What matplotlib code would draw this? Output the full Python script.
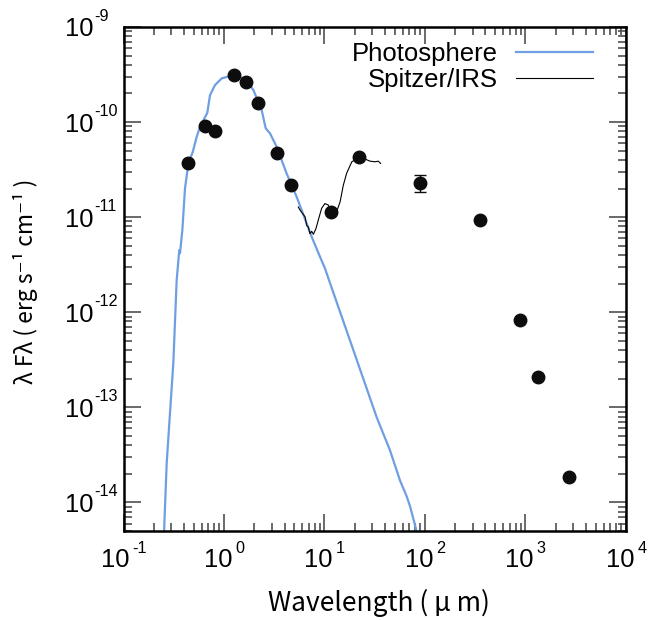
import numpy as np
import matplotlib
matplotlib.use('Agg')
import matplotlib.pyplot as plt
from matplotlib.ticker import LogLocator, NullFormatter

plt.rcParams['font.family'] = ['Liberation Sans', 'DejaVu Sans']

# photometry (wavelength in micron, lambda F_lambda in erg s^-1 cm^-2)
phot_wl = [0.438, 0.647, 0.808, 1.25, 1.65, 2.18, 3.35, 4.6, 11.5, 22.0,
           90.0, 350.0, 887.0, 1330.0, 2710.0]
phot_flux = [3.73e-11, 9.1e-11, 8.0e-11, 3.13e-10, 2.62e-10, 1.57e-10, 4.75e-11,
             2.19e-11, 1.12e-11, 4.28e-11, 2.28e-11, 9.3e-12, 8.2e-13, 2.06e-13, 1.83e-14]
err_lo = [0, 0, 0, 0, 0, 0, 0, 0, 0, 0, 0.46e-11, 0, 0, 0, 0]
err_hi = [0, 0, 0, 0, 0, 0, 0, 0, 0, 0, 0.49e-11, 0, 0, 0, 0]

# stellar photosphere model
model_wl = [0.252, 0.255, 0.269, 0.290, 0.313, 0.338, 0.359, 0.365, 0.379, 0.385,
            0.409, 0.442, 0.489, 0.535, 0.577, 0.682, 0.726, 0.814, 0.948, 1.15,
            1.34, 1.68, 1.96, 2.37, 2.60, 2.87, 3.34, 4.2, 5.28, 7.46, 9.02,
            10.1, 11.4, 19.4, 33.0, 44.9, 56.4, 65.5, 71.0, 81.3, 85.0]
model_flux = [4.0e-15, 6.0e-15, 2.58e-14, 8.65e-14, 2.9e-13, 2.17e-12, 4.5e-12, 4.18e-12,
              6.2e-12, 7.3e-12, 2.0e-11, 3.67e-11, 4.86e-11, 7.0e-11, 8.9e-11, 1.25e-10,
              1.92e-10, 2.45e-10, 2.88e-10, 3.05e-10, 3.05e-10, 2.77e-10, 2.17e-10,
              1.34e-10, 8.6e-11, 7.6e-11, 5.5e-11, 2.88e-11, 1.64e-11, 6.2e-12, 3.83e-12,
              2.9e-12, 2.0e-12, 3.98e-13, 7.9e-14, 3.52e-14, 1.7e-14, 1.17e-14, 9.1e-15,
              5.3e-15, 4.0e-15]

# Spitzer IRS spectrum
irs_wl = [5.48, 5.70, 6.06, 6.40, 6.65, 6.90, 7.17, 7.46, 7.75, 8.23, 8.67, 9.37,
          10.1, 10.9, 11.8, 13.2, 14.3, 15.4, 16.6, 18.7, 21.7, 25.3, 28.4, 31.8,
          34.3, 36.2]
irs_flux = [1.28e-11, 1.19e-11, 1.09e-11, 1.01e-11, 8.2e-12, 7.9e-12, 6.7e-12, 7.1e-12,
            6.6e-12, 7.6e-12, 9.3e-12, 1.24e-11, 1.39e-11, 1.34e-11, 1.14e-11, 1.14e-11,
            1.45e-11, 2.17e-11, 2.89e-11, 3.82e-11, 4.21e-11, 4.08e-11, 3.88e-11,
            3.82e-11, 3.88e-11, 3.67e-11]

x_exps = [-1, 0, 1, 2, 3, 4]
y_exps = [-14, -13, -12, -11, -10, -9]

fig = plt.figure(figsize=(6.48, 6.2), dpi=100)
ax = fig.add_axes([0.1906, 0.1435, 0.7754, 0.813])

ax.plot(model_wl, model_flux, color='#6f9fe2', lw=1.6, label='Photosphere')
ax.plot(irs_wl, irs_flux, color='black', lw=0.8, label='Spitzer/IRS')
ax.errorbar(phot_wl, phot_flux, yerr=[err_lo, err_hi], fmt='o', color='#0d0d0d',
            ms=9, elinewidth=1, capsize=4.2, capthick=1, zorder=5)

ax.set_xscale('log')
ax.set_yscale('log')
ax.set_xlim(0.1, 1e4)
ax.set_ylim(5e-15, 1e-9)

ax.set_xticks([10.0 ** e for e in x_exps])
ax.set_yticks([10.0 ** e for e in y_exps])
for axis in [ax.xaxis, ax.yaxis]:
    axis.set_minor_locator(LogLocator(base=10, subs=np.arange(2, 10), numticks=20))
    axis.set_major_formatter(NullFormatter())
    axis.set_minor_formatter(NullFormatter())

ax.tick_params(which='both', direction='in', top=True, right=True, color='#505050',
               width=1.2)
ax.tick_params(which='major', length=12)
ax.tick_params(which='minor', length=6)
for sp in ax.spines.values():
    sp.set_linewidth(1.8)

# tick labels: big "10" with a small raised exponent
big, small = 18.4, 11.7
for e in y_exps:
    ax.annotate('10', xy=(0, 10.0 ** e), xycoords=('axes fraction', 'data'),
                xytext=(-58.5, -9.5), textcoords='offset pixels',
                ha='left', va='baseline', fontsize=big, annotation_clip=False)
    ax.annotate('%d' % e, xy=(0, 10.0 ** e), xycoords=('axes fraction', 'data'),
                xytext=(-29.5, 6), textcoords='offset pixels',
                ha='left', va='baseline', fontsize=small, annotation_clip=False)
for e in x_exps:
    s = '%d' % e
    ew = 0.556 * small * 100 / 72 * len(s.lstrip('-')) + (0.333 * small * 100 / 72 if e < 0 else 0)
    left = -(28.4 + 3 + ew) / 2
    ax.annotate('10', xy=(10.0 ** e, 0), xycoords=('data', 'axes fraction'),
                xytext=(left, -36), textcoords='offset pixels',
                ha='left', va='baseline', fontsize=big, annotation_clip=False)
    ax.annotate(s, xy=(10.0 ** e, 0), xycoords=('data', 'axes fraction'),
                xytext=(left + 31.4, -22), textcoords='offset pixels',
                ha='left', va='baseline', fontsize=small, annotation_clip=False)

fig.text(0.585, 0.027, 'Wavelength ( μ m)', family=['Noto Sans CJK JP', 'DejaVu Sans'],
         fontsize=19, ha='center', va='center')
fig.text(0.040, 0.547, 'λ Fλ ( erg s⁻¹ cm⁻¹ )', family=['Noto Sans CJK JP', 'DejaVu Sans'],
         fontsize=16.5, ha='center', va='center', rotation=90)

ax.legend(loc='upper right', bbox_to_anchor=(0.955, 0.99), frameon=False,
          markerfirst=False, fontsize=18.5, handlelength=3.0, handletextpad=0.7,
          labelspacing=0.05, borderaxespad=0)

fig.savefig('out.png', dpi=100)
